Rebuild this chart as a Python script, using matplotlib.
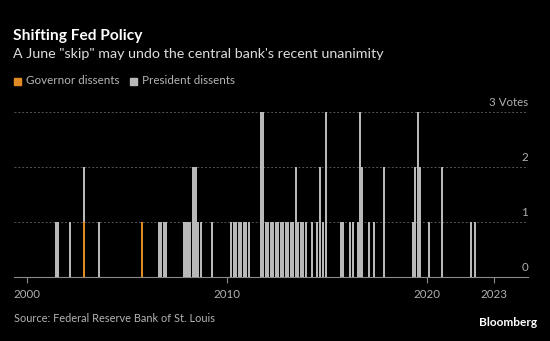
import matplotlib
matplotlib.use("Agg")
import matplotlib.pyplot as plt
from matplotlib.patches import Rectangle

plt.rcParams['font.family'] = ['Lato', 'DejaVu Sans']

# FOMC meetings with at least one dissent (decimal year) and dissent counts
meeting_dates = [
    2001.45, 2001.55, 2002.16, 2002.88, 2003.62, 2005.78,
    2006.60, 2006.73, 2006.855, 2006.98,
    2007.85, 2007.96, 2008.07, 2008.18, 2008.30, 2008.43, 2008.55, 2008.68,
    2009.24,
    2010.225, 2010.35, 2010.475, 2010.60, 2010.725, 2010.85, 2010.975, 2011.10,
    2011.70, 2011.82,
    2011.95, 2012.07, 2012.20, 2012.32, 2012.45, 2012.57, 2012.70, 2012.82,
    2012.95, 2013.07, 2013.20, 2013.32, 2013.45, 2013.57, 2013.70, 2013.82, 2013.95,
    2014.23, 2014.52, 2014.67, 2014.79, 2014.94,
    2015.67, 2015.79,
    2016.16, 2016.28, 2016.52, 2016.63, 2016.755,
    2017.105, 2017.36, 2017.85,
    2019.30, 2019.41, 2019.535, 2019.66,
    2020.10, 2020.72,
    2022.17, 2022.40,
]
governor_dissents = [
    0, 0, 0, 1, 0, 1,
    0, 0, 0, 0,
    0, 0, 0, 0, 0, 0, 0, 0,
    0,
    0, 0, 0, 0, 0, 0, 0, 0,
    0, 0,
    0, 0, 0, 0, 0, 0, 0, 0,
    0, 0, 0, 0, 0, 0, 0, 0, 0,
    0, 0, 0, 0, 0,
    0, 0,
    0, 0, 0, 0, 0,
    0, 0, 0,
    0, 0, 0, 0,
    0, 0,
    0, 0,
]
president_dissents = [
    1, 1, 1, 1, 1, 0,
    1, 1, 1, 1,
    1, 1, 1, 1, 2, 2, 1, 1,
    1,
    1, 1, 1, 1, 1, 1, 1, 1,
    3, 3,
    1, 1, 1, 1, 1, 1, 1, 1,
    1, 1, 1, 1, 2, 1, 1, 1, 1,
    1, 1, 2, 1, 3,
    1, 1,
    1, 1, 1, 3, 2,
    1, 1, 2,
    1, 2, 3, 2,
    1, 2,
    1, 1,
]

x_ticks = [2000, 2010, 2020, 2023.33]
x_tick_labels = ["2000", "2010", "2020", "2023"]
y_levels = [0, 1, 2, 3]
y_labels = ["0", "1", "2", "3 Votes"]

GOV_COLOR = "#e08a24"
PRES_COLOR = "#b8b8b8"
BG = "#000000"

fig = plt.figure(figsize=(5.5, 3.41), dpi=100, facecolor=BG)
ax = fig.add_axes([0.0255, 0.1877, 0.9345, 0.483])
ax.set_facecolor(BG)

bar_w = 0.1
ax.bar(meeting_dates, governor_dissents, width=bar_w, color=GOV_COLOR,
       linewidth=0, zorder=3)
ax.bar(meeting_dates, president_dissents, width=bar_w, bottom=governor_dissents,
       color=PRES_COLOR, linewidth=0, zorder=3)

ax.set_xlim(1999.37, 2025.03)
ax.set_ylim(0, 3)

# dotted gridlines with labels sitting above them on the right
for lvl, lab in zip(y_levels, y_labels):
    if lvl > 0:
        ax.axhline(lvl, color="#555555", lw=0.7, ls=(0, (2, 2)), zorder=1)
    ax.text(1.0, lvl + 0.08, lab, transform=ax.get_yaxis_transform(),
            ha="right", va="bottom", color="#b0b0b0", fontsize=8.3)

for side in ["left", "right", "top"]:
    ax.spines[side].set_visible(False)
ax.spines["bottom"].set_color("#8a8a8a")
ax.spines["bottom"].set_linewidth(0.8)
ax.set_yticks([])
ax.set_xticks(x_ticks)
ax.set_xticklabels(x_tick_labels)
ax.tick_params(axis="x", colors="#8a8a8a", length=4, width=0.8, pad=5,
               labelcolor="#b0b0b0", labelsize=8.3)

# header
fig.text(0.024, 1 - 36 / 341, "Shifting Fed Policy", color="white",
         fontsize=11.2, fontweight="bold", va="center", ha="left")
fig.text(0.024, 1 - 54 / 341,
         "A June \"skip\" may undo the central bank's recent unanimity",
         color="#dcdcdc", fontsize=10.3, va="center", ha="left")

# legend
leg_y = 1 - 81 / 341
sq = 7 / 550
fig.patches.append(Rectangle((14 / 550, leg_y - 3.5 / 341), sq, 7 / 341,
                             transform=fig.transFigure, color=GOV_COLOR))
fig.text(26 / 550, leg_y, "Governor dissents", color="#b4b4b4",
         fontsize=8.4, va="center", ha="left")
fig.patches.append(Rectangle((130 / 550, leg_y - 3.5 / 341), sq, 7 / 341,
                             transform=fig.transFigure, color=PRES_COLOR))
fig.text(142 / 550, leg_y, "President dissents", color="#b4b4b4",
         fontsize=8.4, va="center", ha="left")

# footer
fig.text(14 / 550, 1 - 319 / 341, "Source: Federal Reserve Bank of St. Louis",
         color="#b4b4b4", fontsize=7.9, va="center", ha="left")
fig.text(537 / 550, 1 - 322 / 341, "Bloomberg", color="white",
         fontsize=8.6, fontweight="bold", va="center", ha="right")

fig.savefig("out.png", dpi=100, facecolor=BG)
